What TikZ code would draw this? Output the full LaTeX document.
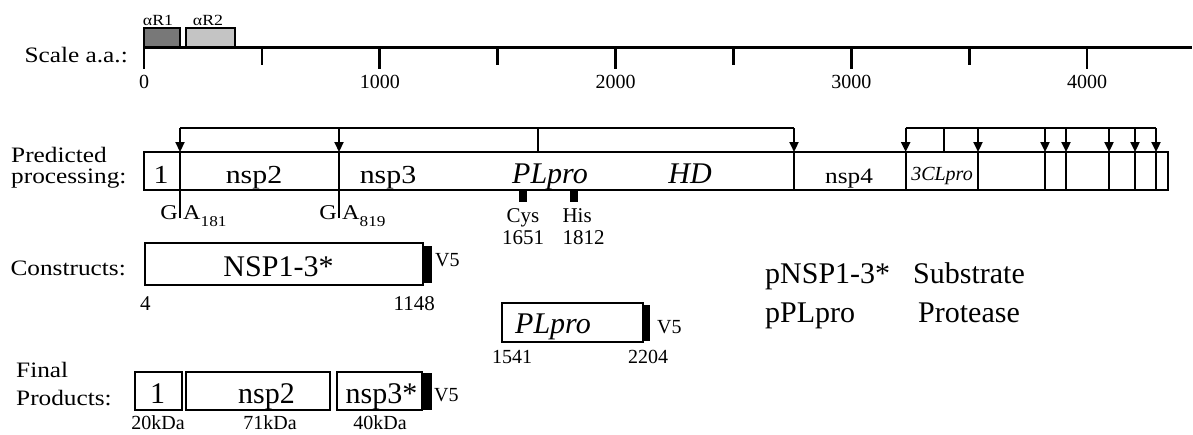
\documentclass[tikz,border=0pt]{standalone}
\usepackage{fontspec}
\setmainfont{Liberation Serif}
\newfontfamily\widefont[FakeStretch=1.15]{Liberation Serif}
\usetikzlibrary{arrows.meta,positioning}
\newcommand\fsz[1]{\fontsize{#1}{#1}\selectfont}
\definecolor{rdark}{HTML}{787878}
\definecolor{rlight}{HTML}{C4C4C4}

\begin{document}
\begin{tikzpicture}[x=1pt,y=-1pt,
  rowlab/.style={font=\widefont\fsz{22},inner sep=0pt,align=left},
  seg/.style={draw,line width=2.4pt,inner sep=0pt,outer sep=0pt,minimum height=38pt},
  cbox/.style={draw,line width=2.4pt,inner sep=0pt,outer sep=0pt},
  tag/.style={fill=black,inner sep=0pt,outer sep=0pt},
  site/.style={fill=black,inner sep=0pt,outer sep=0pt,minimum width=8pt,minimum height=12pt},
  num/.style={font=\fsz{21},inner sep=0pt},
  wlab/.style={font=\widefont\fsz{26},inner sep=0pt,anchor=base},
  big/.style={font=\fsz{30},inner sep=0pt,anchor=base},
  ital/.style={font=\itshape\fsz{30},inner sep=0pt,anchor=base},
  vlab/.style={font=\fsz{20},inner sep=0pt,anchor=base west},
  link/.style={line width=2.2pt},
  cut/.style={-{Triangle[length=10pt,width=9pt]}},
  axis/.style={line width=2.6pt}]
  \useasboundingbox (0,0) rectangle (1193,434);

  % scale in amino acids
  \node[rowlab,anchor=base east] (scl) at (128,62) {Scale a.a.:};
  \coordinate (a0) at (144,47.7);
  \coordinate (a1) at (1192,47.7);
  \node[cbox,fill=rdark,minimum width=36pt,minimum height=20pt,anchor=south west] (r1) at (a0) {};
  \node[cbox,fill=rlight,minimum width=49pt,minimum height=20pt,right=6pt of r1] (r2) {};
  \node[font=\widefont\fsz{15.5},inner sep=0pt,anchor=base] (r1lab) at (158,25) {αR1};
  \node[font=\widefont\fsz{15.5},inner sep=0pt,anchor=base] (r2lab) at (208,25) {αR2};
  \draw[axis] (a0) -- (a1);
  \foreach \v in {0,1000,...,4000} {
    \draw[axis] ({144+0.2358*\v},47.7) -- ++(0,21);
    \node[num,font=\fsz{20},anchor=base] (t\v) at ({144+0.2358*\v},88) {\v};
  }
  \foreach \v in {500,1500,2500,3500}
    \draw[axis] ({144+0.2358*\v},47.7) -- ++(0,17);

  % predicted processing
  \node[rowlab,anchor=north west,font=\widefont\fontsize{22}{21}\selectfont] (pred) at (11,147) {Predicted\\processing:};
  \foreach \l/\r/\n in {144/180/p1,180/339/p2,339/794/p3,794/905.7/p4,905.7/978/p5,
                        978/1045/p6,1045/1066/p7,1066/1109/p8,1109/1135/p9,1135/1156/p10,1156/1168/p11}
    \node[seg,minimum width={(\r-\l)*1pt}] (\n) at ({(\l+\r)/2},171) {};
  \node[wlab] (l1) at (161,183) {1};
  \node[wlab] (l2) at (254,183) {nsp2};
  \node[wlab] (l3) at (388,183) {nsp3};
  \node[ital] (l4) at (550,183) {PLpro};
  \node[ital] (l5) at (690,183) {HD};
  \node[wlab,font=\widefont\fsz{22}] (l6) at (849,183) {nsp4};
  \node[ital,font=\itshape\fsz{20}] (l7) at (942,180) {3CLpro};

  % cleavage sites
  \coordinate (lt) at (538,128.3);
  \coordinate (rt) at (944,128.3);
  \draw[link] (p2.north west |- lt) -- (p4.north west |- lt);
  \draw[link] (lt) -- (lt |- p3.north);
  \foreach \s in {p2,p3,p4}
    \draw[link,cut] (\s.north west |- lt) -- (\s.north west);
  \draw[link] (p5.north west |- rt) -- (p11.north west |- rt);
  \draw[link] (rt) -- (rt |- p5.north);
  \foreach \s in {p5,p6,p7,p8,p9,p10,p11}
    \draw[link,cut] (\s.north west |- rt) -- (\s.north west);
  \draw[link] (p2.south west) -- ++(0,28);
  \draw[link] (p3.south west) -- ++(0,28);
  \node[font=\widefont\fsz{21},inner sep=0pt,anchor=base east] (g1) at (178,219.5) {G};
  \node[font=\widefont\fsz{21},inner sep=0pt,anchor=base west] (a181) at (183,219.5) {A\raisebox{-7pt}{\fsz{15}181}};
  \node[font=\widefont\fsz{21},inner sep=0pt,anchor=base east] (g2) at (337,219.5) {G};
  \node[font=\widefont\fsz{21},inner sep=0pt,anchor=base west] (a819) at (342,219.5) {A\raisebox{-7pt}{\fsz{15}819}};

  % catalytic residues
  \node[site] (cys) at (523,196) {};
  \node[site] (his) at (573.5,196) {};
  \node[num,font=\fontsize{21}{22}\selectfont,align=center,below=6pt of cys] (cyslab) {Cys\\1651};
  \node[num,font=\fontsize{21}{22}\selectfont,align=left,below=6pt of his,xshift=10pt] (hislab) {His\\1812};

  % constructs
  \node[rowlab,anchor=base east] (con) at (126,275) {Constructs:};
  \node[cbox,minimum width=278pt,minimum height=42pt] (cn) at (284,264) {};
  \node[tag,minimum width=9pt,minimum height=37pt,right=0pt of cn] (cnv) {};
  \node[big] (cnt) at (278.5,276) {NSP1-3*};
  \node[vlab] (cv5) at (435,266) {V5};
  \node[num,anchor=base west] (c4) at (140,310) {4};
  \node[num,anchor=base east] (c1148) at (435,310) {1148};

  \node[cbox,minimum width=141pt,minimum height=39pt] (pl) at (572.5,322.5) {};
  \node[tag,minimum width=7pt,minimum height=36pt,right=0pt of pl] (plv) {};
  \node[ital] (plt) at (553,333) {PLpro};
  \node[vlab] (pv5) at (657,333) {V5};
  \node[num,font=\fsz{20},anchor=base] (p1541) at (512,363) {1541};
  \node[num,font=\fsz{20},anchor=base] (p2204) at (648,363) {2204};

  \node[big,anchor=base west] (sub1) at (765,283) {pNSP1-3*};
  \node[big,anchor=base west] (sub2) at (913,283) {Substrate};
  \node[big,anchor=base west] (pro1) at (765,322) {pPLpro};
  \node[big,anchor=base west] (pro2) at (918,322) {Protease};

  % final products
  \node[rowlab,anchor=north west,font=\widefont\fontsize{22}{28}\selectfont] (fin) at (16,362) {Final\\Products:};
  \node[cbox,minimum width=47pt,minimum height=38pt] (f1) at (158.5,391) {};
  \node[cbox,minimum width=144pt,minimum height=38pt] (f2) at (258,391) {};
  \node[cbox,minimum width=85pt,minimum height=38pt] (f3) at (379.5,391) {};
  \node[tag,minimum width=10pt,minimum height=37pt,right=0pt of f3] (fv) {};
  \node[big] (f1t) at (157.5,403) {1};
  \node[big] (f2t) at (266.5,403) {nsp2};
  \node[big] (f3t) at (381.5,403) {nsp3*};
  \node[vlab] (fv5) at (434,401) {V5};
  \node[num,font=\fsz{20},anchor=base] (k1) at (158,429) {20kDa};
  \node[num,font=\fsz{20},anchor=base] (k2) at (270,429) {71kDa};
  \node[num,font=\fsz{20},anchor=base] (k3) at (380,429) {40kDa};
\end{tikzpicture}
\end{document}
